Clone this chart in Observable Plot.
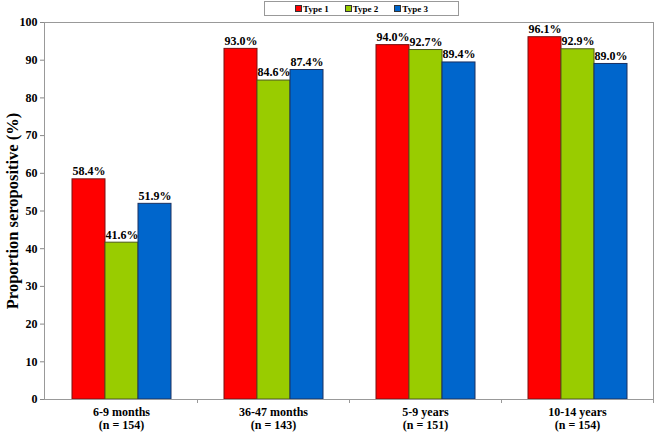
<!DOCTYPE html>
<html>
<head>
<meta charset="utf-8">
<script src="https://cdn.jsdelivr.net/npm/d3@7"></script>
<script src="https://cdn.jsdelivr.net/npm/@observablehq/plot@0.6"></script>
<style>
  body { margin: 0; background: #fff; }
  #wrap { position: relative; width: 657px; height: 434px; }
  #legend {
    position: absolute; left: 264px; top: 1px; width: 193px; height: 13px;
    border: 1px solid #999; background: #fff;
    font-family: "Liberation Serif", serif; font-weight: bold; font-size: 9px;
    display: flex; align-items: center; justify-content: center; gap: 16px;
  }
  #legend span.item { display: inline-flex; align-items: center; gap: 1px; }
  #legend i { display: inline-block; width: 5px; height: 5px; border: 1px solid #333; }
</style>
</head>
<body>
<div id="wrap"><div id="legend"></div></div>
<script>
const groups = ["6-9 months", "36-47 months", "5-9 years", "10-14 years"];
const groupN = [154, 143, 151, 154];
const types = ["Type 1", "Type 2", "Type 3"];
const type1 = [58.4, 93.0, 94.0, 96.1];
const type2 = [41.6, 84.6, 92.7, 92.9];
const type3 = [51.9, 87.4, 89.4, 89.0];
const yTicks = [0, 10, 20, 30, 40, 50, 60, 70, 80, 90, 100];
const fills = {"Type 1": "#ff0000", "Type 2": "#99cc00", "Type 3": "#0066cc"};
const strokes = {"Type 1": "#7a1010", "Type 2": "#4d5a1a", "Type 3": "#1a3060"};

const series = [type1, type2, type3];
const rows = [];
groups.forEach((g, i) => types.forEach((t, j) => rows.push({group: g, type: t, value: series[j][i]})));

const font = "'Liberation Serif', serif";

const plot = Plot.plot({
  width: 657,
  height: 434,
  marginLeft: 44,
  marginRight: 3,
  marginTop: 22,
  marginBottom: 35,
  style: {fontFamily: font, fontWeight: "bold", fontSize: "12px", color: "#000", background: "#fff"},
  fx: {domain: groups, paddingInner: 0, paddingOuter: 0, label: null},
  x: {domain: types, paddingInner: 0, paddingOuter: 0.74, axis: null},
  y: {domain: [0, 100]},
  marks: [
    Plot.axisFx({
      anchor: "bottom", label: null, tickSize: 0, tickPadding: 7, lineHeight: 1.1, fontSize: 12,
      tickFormat: g => `${g}\n(n = ${groupN[groups.indexOf(g)]})`
    }),
    Plot.axisY({ticks: [], label: "Proportion seropositive (%)", labelAnchor: "center", labelArrow: "none", labelOffset: 39, tickSize: 0}),
    Plot.axisY({ticks: yTicks, label: null, tickSize: 5, tickPadding: 3, stroke: "#888", fontSize: 12}),
    Plot.barY(rows, {fx: "group", x: "type", y: "value", fill: d => fills[d.type], stroke: d => strokes[d.type], strokeWidth: 1}),
    Plot.text(rows, {fx: "group", x: "type", y: "value", text: d => d.value.toFixed(1) + "%", dy: -8, fontSize: 12, fill: "#000"})
  ]
});

// frame and category boundary ticks drawn from the plot's own scales
const fx = plot.scale("fx");
const y = plot.scale("y");
const svg = d3.select(plot);
const [x0, x1] = fx.range;
const yb = y.apply(0), yt = y.apply(100);
svg.append("rect")
  .attr("x", x0 + 0.5).attr("y", yt + 0.5)
  .attr("width", x1 - x0 - 1).attr("height", yb - yt)
  .attr("fill", "none").attr("stroke", "#999");
svg.append("g").attr("stroke", "#999").selectAll("line")
  .data(groups.slice(1).concat([null]))
  .join("line")
  .attr("x1", g => g === null ? x1 - 0.5 : fx.apply(g) + 0.5)
  .attr("x2", g => g === null ? x1 - 0.5 : fx.apply(g) + 0.5)
  .attr("y1", yb).attr("y2", yb + 4);
// larger axis title
svg.selectAll('g[aria-label="y-axis label"] text, g[aria-label="y-axis label"]')
  .attr("font-size", 16.5);

document.getElementById("wrap").prepend(plot);

const legend = document.getElementById("legend");
types.forEach(t => {
  const s = document.createElement("span");
  s.className = "item";
  s.innerHTML = `<i style="background:${fills[t]}"></i>${t}`;
  legend.appendChild(s);
});
</script>
</body>
</html>
